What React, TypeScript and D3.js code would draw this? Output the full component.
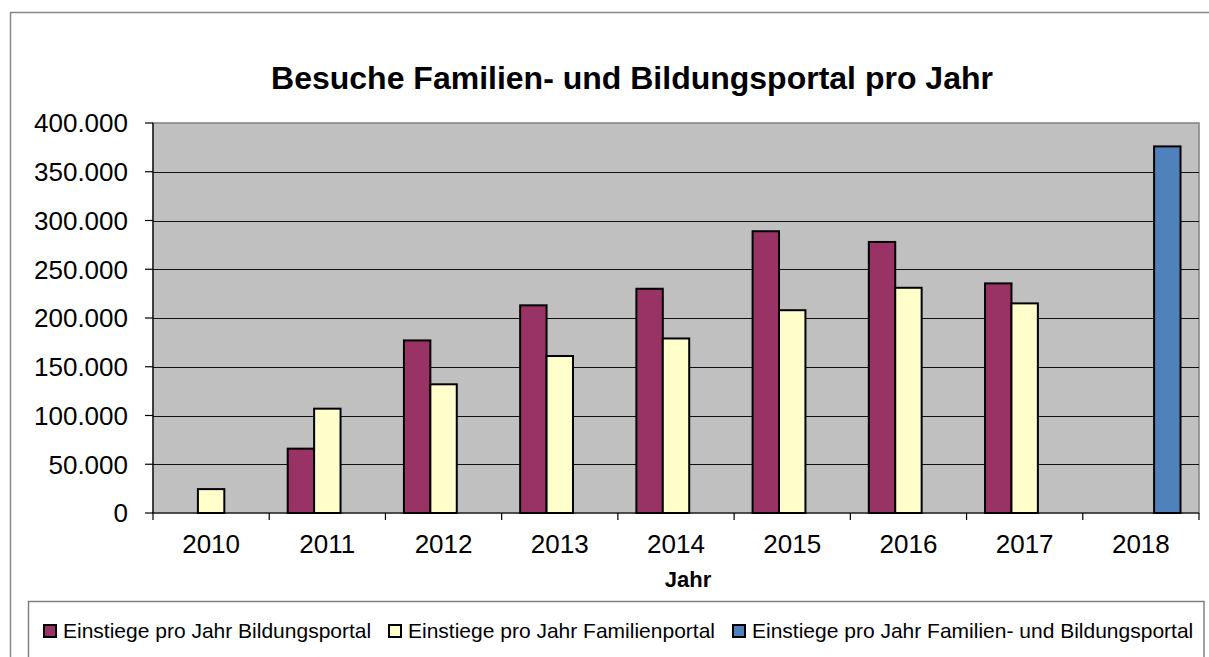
import React from 'react';
import * as d3 from 'd3';

const years = ['2010', '2011', '2012', '2013', '2014', '2015', '2016', '2017', '2018'];
const seriesNames = [
  'Einstiege pro Jahr Bildungsportal',
  'Einstiege pro Jahr Familienportal',
  'Einstiege pro Jahr Familien- und Bildungsportal',
];
const bildung: (number | null)[] = [null, 66000, 177000, 213000, 230000, 289000, 278000, 235500, null];
const familie: (number | null)[] = [24500, 107000, 132000, 161000, 179000, 208000, 231000, 215000, null];
const kombi: (number | null)[] = [null, null, null, null, null, null, null, null, 376000];
const yTicks = [0, 50000, 100000, 150000, 200000, 250000, 300000, 350000, 400000];
const colors = ['#993366', '#FFFFCC', '#4F81BD'];

const W = 1209;
const H = 657;
const FONT = '"Liberation Sans", Arial, Helvetica, sans-serif';

export default function App() {
  const left = 153, right = 1199, top = 123, bottom = 513;
  const x = d3.scaleBand<string>().domain(years).range([left, right]).padding(0);
  const bw = x.bandwidth();
  const barW = bw / 4.4;
  const groupW = barW * 3;
  const xs = d3.scaleBand<string>().domain(seriesNames).range([0, groupW]).padding(0);
  const y = d3.scaleLinear().domain([0, 400000]).range([bottom, top]);
  const loc = d3.formatLocale({ decimal: ',', thousands: '.', grouping: [3], currency: ['', '€'] });
  const fmt = loc.format(',.0f');
  const allSeries = [bildung, familie, kombi];
  const legendX = [43, 388, 732];

  return (
    <svg width={W} height={H} style={{ position: 'absolute', left: 0, top: 0, background: '#fff' }} fontFamily={FONT}>
      <rect x={10.5} y={12.5} width={1400} height={800} fill="#fff" stroke="#878787" strokeWidth={1.5} />
      <text x={632} y={89} textAnchor="middle" fontSize={32} fontWeight="bold" fill="#000">
        Besuche Familien- und Bildungsportal pro Jahr
      </text>
      {/* plot area */}
      <rect x={left} y={top} width={right - left} height={bottom - top} fill="#C0C0C0" stroke="#808080" strokeWidth={1.5} />
      {yTicks.filter((t) => t > 0 && t < 400000).map((t) => (
        <line key={'g' + t} x1={left} x2={right} y1={Math.round(y(t)) + 0.5} y2={Math.round(y(t)) + 0.5} stroke="#111" strokeWidth={1.2} />
      ))}
      {/* bars */}
      {allSeries.map((vals, si) =>
        vals.map((v, i) =>
          v == null ? null : (
            <rect
              key={si + '-' + i}
              x={(x(years[i]) as number) + (bw - groupW) / 2 + (xs(seriesNames[si]) as number)}
              y={y(v)}
              width={xs.bandwidth()}
              height={bottom - y(v)}
              fill={colors[si]}
              stroke="#000"
              strokeWidth={2}
            />
          )
        )
      )}
      {/* axes */}
      <line x1={left} x2={left} y1={top} y2={bottom} stroke="#000" strokeWidth={1.2} />
      <line x1={left} x2={right} y1={bottom} y2={bottom} stroke="#000" strokeWidth={1.2} />
      {yTicks.map((t) => (
        <g key={'y' + t}>
          <line x1={left - 8} x2={left} y1={y(t)} y2={y(t)} stroke="#000" strokeWidth={1.2} />
          <text x={128} y={y(t)} dy="0.36em" textAnchor="end" fontSize={26} fill="#000">
            {fmt(t)}
          </text>
        </g>
      ))}
      {[...years.map((yr) => x(yr) as number), right].map((xx, i) => (
        <line key={'xt' + i} x1={xx} x2={xx} y1={bottom} y2={bottom + 7} stroke="#000" strokeWidth={1.2} />
      ))}
      {years.map((yr) => (
        <text key={'xl' + yr} x={(x(yr) as number) + bw / 2} y={553} textAnchor="middle" fontSize={26} fill="#000">
          {yr}
        </text>
      ))}
      <text x={688} y={587} textAnchor="middle" fontSize={22} fontWeight="bold" fill="#000">
        Jahr
      </text>
      {/* legend */}
      <rect x={28.5} y={601.5} width={1175.5} height={100} fill="#fff" stroke="#808080" strokeWidth={1.5} />
      {seriesNames.map((name, i) => (
        <g key={'lg' + i}>
          <rect x={legendX[i] + 1} y={625} width={12} height={12} fill={colors[i]} stroke="#000" strokeWidth={2} />
          <text x={legendX[i] + 20} y={638} fontSize={21} fill="#000">
            {name}
          </text>
        </g>
      ))}
    </svg>
  );
}
